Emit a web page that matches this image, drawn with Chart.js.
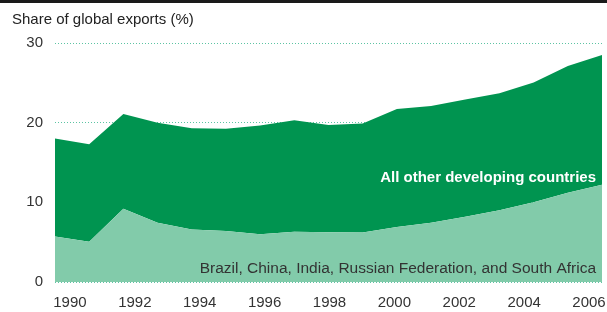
<!DOCTYPE html>
<html>
<head>
<meta charset="utf-8">
<script src="https://cdn.jsdelivr.net/npm/chart.js@4/dist/chart.umd.min.js"></script>
<style>
  html, body { margin: 0; padding: 0; background: #fff; }
  #wrap { position: relative; width: 607px; height: 312px; }
</style>
</head>
<body>
<div id="wrap"><canvas id="chart" width="607" height="312"></canvas></div>
<script>
// years of the series
const years = [1990, 1991, 1992, 1993, 1994, 1995, 1996, 1997, 1998, 1999, 2000, 2001, 2002, 2003, 2004, 2005, 2006];
// Brazil, China, India, Russian Federation, South Africa
const bricsShare = [5.7, 5.05, 9.2, 7.45, 6.6, 6.4, 6.0, 6.3, 6.25, 6.2, 6.9, 7.45, 8.2, 9.0, 10.0, 11.2, 12.2];
// all other developing countries (stacked on top)
const otherShare = [12.3, 12.25, 11.9, 12.55, 12.7, 12.85, 13.65, 14.0, 13.45, 13.7, 14.8, 14.65, 14.7, 14.7, 15.05, 15.9, 16.3];
const tickYears = [1990, 1992, 1994, 1996, 1998, 2000, 2002, 2004, 2006];
const yTicks = [0, 10, 20, 30];

const seriesNames = ['Brazil, China, India, Russian Federation, and South Africa', 'All other developing countries'];
const titleText = 'Share of global exports (%)';
const fontFam = '"Liberation Sans", Arial, sans-serif';

const decor = {
    id: 'decor',
    afterDraw(chart) {
        const ctx = chart.ctx;
        const area = chart.chartArea;
        ctx.save();
        ctx.fillStyle = '#1a1a1a';
        ctx.fillRect(0, 0, chart.width, 3);
        ctx.fillStyle = '#222';
        ctx.font = '15px ' + fontFam;
        ctx.textAlign = 'left';
        ctx.textBaseline = 'alphabetic';
        ctx.fillText(titleText, 12, 24);

        ctx.textAlign = 'right';
        ctx.fillStyle = '#fff';
        ctx.font = 'bold 15px ' + fontFam;
        ctx.fillText(seriesNames[1], area.right - 6, 182);
        ctx.fillStyle = '#333';
        ctx.font = '15.5px ' + fontFam;
        ctx.fillText(seriesNames[0], area.right - 6, 273);
        ctx.restore();
    }
};

new Chart(document.getElementById('chart').getContext('2d'), {
    type: 'line',
    data: {
        labels: years,
        datasets: [
            { label: seriesNames[0], data: bricsShare, backgroundColor: '#82cbaa', fill: 'origin' },
            { label: seriesNames[1], data: otherShare, backgroundColor: '#009450', fill: '-1' }
        ]
    },
    options: {
        responsive: false,
        animation: false,
        layout: { padding: { left: 0, right: 5, top: 43, bottom: 0 } },
        elements: { line: { borderWidth: 0, tension: 0 }, point: { radius: 0 } },
        plugins: { legend: { display: false }, tooltip: { enabled: false } },
        scales: {
            x: { type: 'category', display: false, offset: false },
            yr: {
                type: 'linear',
                position: 'bottom',
                min: 1989.54,
                max: 2006.4,
                afterBuildTicks: scale => { scale.ticks = tickYears.map(v => ({ value: v })); },
                afterFit: scale => {
                    scale.height = 30;
                    scale.paddingLeft = 0;
                    scale.paddingRight = 0;
                },
                grid: { display: false, drawTicks: false },
                border: { display: false },
                ticks: { color: '#333', font: { size: 15, family: fontFam }, padding: 12, maxRotation: 0, autoSkip: false, callback: v => String(v) }
            },
            y: {
                stacked: true,
                min: 0,
                max: 30,
                afterBuildTicks: scale => { scale.ticks = yTicks.map(v => ({ value: v })); },
                afterFit: scale => {
                    scale.width = 55;
                    scale.paddingTop = 0;
                    scale.paddingBottom = 0;
                },
                grid: { color: '#5cc4a3', lineWidth: 1, drawTicks: false },
                border: { display: false, dash: [1, 2] },
                ticks: { color: '#333', font: { size: 15, family: fontFam }, padding: 12 }
            }
        }
    },
    plugins: [decor]
});
</script>
</body>
</html>
